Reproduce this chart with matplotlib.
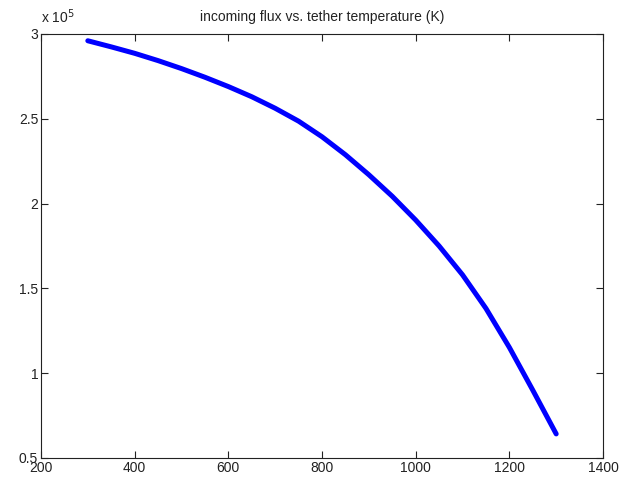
import numpy as np
import matplotlib
matplotlib.use("Agg")
import matplotlib.pyplot as plt

plt.rcParams['font.family'] = ['Liberation Sans', 'DejaVu Sans']

# tether temperature (K) and incoming flux (x 1e5)
temperature = [300, 350, 400, 450, 500, 550, 600, 650, 700, 750, 800,
               850, 900, 950, 1000, 1050, 1100, 1150, 1200, 1250, 1300]
flux = [2.960, 2.924, 2.886, 2.843, 2.796, 2.745, 2.690, 2.630, 2.562, 2.486, 2.394,
        2.288, 2.170, 2.043, 1.903, 1.750, 1.580, 1.382, 1.152, 0.900, 0.642]

xticks = [200, 400, 600, 800, 1000, 1200, 1400]
yticks = [0.5, 1, 1.5, 2, 2.5, 3]

fig = plt.figure(figsize=(6.19, 4.82), dpi=100)
ax = fig.add_axes([0.0662, 0.0498, 0.9080, 0.8797])

ax.plot(temperature, flux, color='#0000ff', linewidth=3.6,
        solid_capstyle='round', solid_joinstyle='round')

ax.set_xlim(200, 1400)
ax.set_ylim(0.5, 3)
ax.set_xticks(xticks)
ax.set_yticks(yticks)
ax.set_yticklabels([f"{v:g}" for v in yticks])

ax.tick_params(direction='in', length=5, width=0.8, top=True, right=True,
               labelsize=10, colors='#222222', pad=2)
for s in ax.spines.values():
    s.set_linewidth(0.8)
    s.set_color('#222222')

ax.set_title('incoming flux vs. tether temperature (K)', fontsize=10, color='#222222', pad=9)
ax.text(0.0, 1.02, r'x 10$^{5}$', transform=ax.transAxes, fontsize=10,
        color='#222222', ha='left', va='bottom')

fig.savefig('out.png', dpi=100)
